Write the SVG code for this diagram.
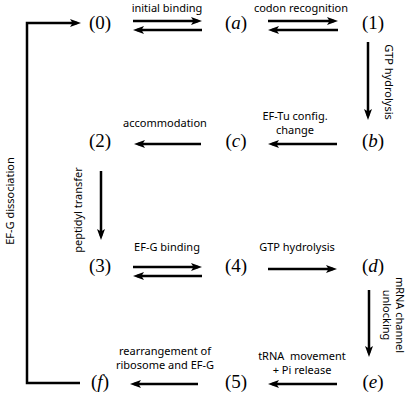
<svg xmlns="http://www.w3.org/2000/svg" width="415" height="397" viewBox="0 0 415 397">
<style>
.st{font-family:"Liberation Serif","DejaVu Serif",serif;font-size:19px;text-anchor:middle;fill:#000}
.it{font-style:italic}
.lb{font-family:"Noto Sans","Open Sans",sans-serif;font-size:11px;text-anchor:middle;fill:#000;white-space:pre}
.ln{stroke:#000;stroke-width:2.5;fill:none;marker-end:url(#ah)}
</style>
<defs>
<marker id="ah" markerUnits="userSpaceOnUse" markerWidth="12" markerHeight="10" refX="7" refY="4.5" orient="auto" viewBox="0 0 12 10">
<path d="M0,0.5 L11,4.5 L0,8.5 L2.5,4.5 Z" fill="#000"/>
</marker>
</defs>
<rect width="415" height="397" fill="#fff"/>
<g id="n0"><text class="st" x="100" y="29">(0)</text></g>
<g id="na"><text class="st" x="236" y="29">(<tspan class="it">a</tspan>)</text></g>
<g id="n1"><text class="st" x="373" y="29">(1)</text></g>
<g id="n2"><text class="st" x="100" y="147">(2)</text></g>
<g id="nc"><text class="st" x="236" y="147">(<tspan class="it">c</tspan>)</text></g>
<g id="nb"><text class="st" x="373" y="147">(<tspan class="it">b</tspan>)</text></g>
<g id="n3"><text class="st" x="100" y="272">(3)</text></g>
<g id="n4"><text class="st" x="236" y="272">(4)</text></g>
<g id="nd"><text class="st" x="373" y="272">(<tspan class="it">d</tspan>)</text></g>
<g id="nf"><text class="st" x="100" y="388">(<tspan class="it">f</tspan>)</text></g>
<g id="n5"><text class="st" x="236" y="388">(5)</text></g>
<g id="ne"><text class="st" x="373" y="388">(<tspan class="it">e</tspan>)</text></g>
<g id="connectors">
<line class="ln" x1="133" y1="21" x2="198" y2="21"/>
<line class="ln" x1="202" y1="30" x2="137" y2="30"/>
<line class="ln" x1="268" y1="21" x2="334" y2="21"/>
<line class="ln" x1="338" y1="30" x2="272" y2="30"/>
<line class="ln" x1="368" y1="42" x2="368" y2="116"/>
<line class="ln" x1="337" y1="144" x2="272" y2="144"/>
<line class="ln" x1="201" y1="144" x2="138" y2="144"/>
<line class="ln" x1="101" y1="171" x2="101" y2="236"/>
<line class="ln" x1="133" y1="267" x2="198" y2="267"/>
<line class="ln" x1="202" y1="276" x2="137" y2="276"/>
<line class="ln" x1="268" y1="269" x2="333" y2="269"/>
<line class="ln" x1="369" y1="290" x2="369" y2="353"/>
<line class="ln" x1="337" y1="384" x2="272" y2="384"/>
<line class="ln" x1="198" y1="384" x2="134" y2="384"/>
<polyline class="ln" points="80,383 27,383 27,23 77,23"/>
</g>
<g id="labels">
<text class="lb" x="167" y="12">initial binding</text>
<text class="lb" x="301" y="12">codon recognition</text>
<text class="lb" transform="translate(385,82) rotate(90)">GTP hydrolysis</text>
<text class="lb" x="295" y="120">EF-Tu config.</text>
<text class="lb" x="295" y="134">change</text>
<text class="lb" x="165" y="127">accommodation</text>
<text class="lb" transform="translate(82,210) rotate(-90)">peptidyl transfer</text>
<text class="lb" x="167" y="251">EF-G binding</text>
<text class="lb" x="297" y="251">GTP hydrolysis</text>
<text class="lb" transform="translate(396,315) rotate(90)">mRNA channel</text>
<text class="lb" transform="translate(383,315) rotate(90)">unlocking</text>
<text class="lb" x="302" y="360">tRNA  movement</text>
<text class="lb" x="302" y="374">+ Pi release</text>
<text class="lb" x="165" y="355">rearrangement of</text>
<text class="lb" x="165" y="369">ribosome and EF-G</text>
<text class="lb" transform="translate(14,201) rotate(-90)">EF-G dissociation</text>
</g>
</svg>
